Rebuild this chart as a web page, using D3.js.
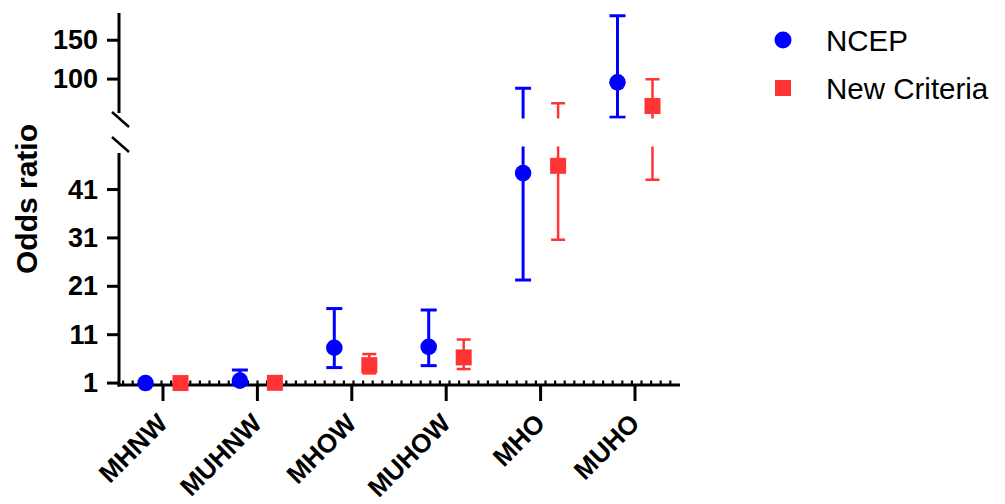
<!DOCTYPE html>
<html>
<head>
<meta charset="utf-8">
<script src="https://cdn.jsdelivr.net/npm/d3@7"></script>
<style>
html,body{margin:0;padding:0;background:#fff;}
svg{display:block;font-family:Arial,"Liberation Sans",sans-serif;}
</style>
</head>
<body>
<svg id="chart" width="1005" height="504"></svg>
<script>
const categories = ["MHNW","MUHNW","MHOW","MUHOW","MHO","MUHO"];
const ncepOR   = [1.0, 1.5, 8.3, 8.5, 44.4, 95.9];
const ncepLow  = [1.0, 0.7, 4.2, 4.6, 22.3, 50.9];
const ncepHigh = [1.0, 3.7, 16.4, 16.1, 88.2, 181.5];
const newOR    = [1.0, 1.05, 4.7, 6.3, 45.9, 65.4];
const newLow   = [1.0, 0.8, 3.0, 3.9, 30.6, 43.0];
const newHigh  = [1.0, 1.3, 7.0, 10.0, 68.9, 99.7];
const upperTicks = [100, 150];
const lowerTicks = [1, 11, 21, 31, 41];
const seriesNames = ["NCEP", "New Criteria"];
const breakValue = 50;

const svg = d3.select("#chart");
const BLUE = "#0000ff", RED = "#ff3535";
const xAxisY = 385, axisX = 119, axisEnd = 680;

const x = d3.scalePoint().domain(categories).range([163, 635]);
const yUp = d3.scaleLinear().domain([breakValue, 185]).range([118, 13]);
const yLo = d3.scaleLinear().domain([0.6, breakValue]).range([xAxisY, 146]);

// clip paths
const defs = svg.append("defs");
defs.append("clipPath").attr("id","clipUp").append("rect").attr("x",0).attr("y",0).attr("width",1005).attr("height",118.5);
defs.append("clipPath").attr("id","clipLo").append("rect").attr("x",0).attr("y",146.5).attr("width",1005).attr("height",400);

// axes
const ax = svg.append("g").attr("stroke","#000").attr("stroke-width",3).attr("fill","none");
ax.append("line").attr("x1",axisX).attr("x2",axisX).attr("y1",13).attr("y2",113);
ax.append("line").attr("x1",axisX).attr("x2",axisX).attr("y1",153).attr("y2",xAxisY+1.5);
ax.append("line").attr("x1",112).attr("x2",129).attr("y1",112).attr("y2",127).attr("stroke-width",2.5);
ax.append("line").attr("x1",112).attr("x2",129).attr("y1",137).attr("y2",152).attr("stroke-width",2.5);
ax.append("line").attr("x1",axisX-1.5).attr("x2",axisEnd).attr("y1",xAxisY).attr("y2",xAxisY);
// dotted reference at y=1
svg.append("line").attr("x1",axisX+3).attr("x2",673).attr("y1",yLo(1)-0.5).attr("y2",yLo(1)-0.5)
  .attr("stroke","#000").attr("stroke-width",4).attr("stroke-dasharray","2.2,7.4");

function yTicks(scale, ticks){
  const g = svg.append("g");
  ticks.forEach(t=>{
    g.append("line").attr("x1",axisX-12).attr("x2",axisX).attr("y1",scale(t)).attr("y2",scale(t))
      .attr("stroke","#000").attr("stroke-width",3);
    g.append("text").attr("x",98).attr("y",scale(t)).attr("text-anchor","end")
      .attr("dominant-baseline","central").attr("font-size",27).attr("font-weight","bold")
      .attr("fill","#000").text(t);
  });
}
yTicks(yUp, upperTicks);
yTicks(yLo, lowerTicks);

// x ticks and labels
categories.forEach(c=>{
  svg.append("line").attr("x1",x(c)).attr("x2",x(c)).attr("y1",xAxisY).attr("y2",401)
    .attr("stroke","#000").attr("stroke-width",3);
  svg.append("text").attr("transform",`translate(${x(c)+6},${425}) rotate(-45)`)
    .attr("text-anchor","end").attr("font-size",26).attr("font-weight","bold").attr("fill","#000").text(c);
});

// y label
svg.append("text").attr("transform","translate(37,199) rotate(-90)").attr("text-anchor","middle")
  .attr("font-size",30).attr("font-weight","bold").attr("fill","#000").text("Odds ratio");

// series
const series = [
  {name:seriesNames[0], or:ncepOR, lo:ncepLow, hi:ncepHigh, dx:-17.5, color:BLUE, sw:3, cap:16, shape:"circle"},
  {name:seriesNames[1], or:newOR, lo:newLow, hi:newHigh, dx:17.5, color:RED, sw:2.5, cap:14, shape:"square"}
];

[[yUp,"clipUp",true],[yLo,"clipLo",false]].forEach(([ys,clip,isUp])=>{
  const g = svg.append("g").attr("clip-path",`url(#${clip})`);
  const inPanel = v => isUp ? v >= breakValue : v < breakValue;
  series.forEach(s=>{
    categories.forEach((c,i)=>{
      const cx = x(c)+s.dx;
      if (s.hi[i] !== s.lo[i]) {
        g.append("line").attr("x1",cx).attr("x2",cx).attr("y1",ys(s.lo[i])).attr("y2",ys(s.hi[i]))
          .attr("stroke",s.color).attr("stroke-width",s.sw);
        [s.lo[i], s.hi[i]].filter(inPanel).forEach(v=>{
          g.append("line").attr("x1",cx-s.cap/2).attr("x2",cx+s.cap/2).attr("y1",ys(v)).attr("y2",ys(v))
            .attr("stroke",s.color).attr("stroke-width",s.sw);
        });
      }
      if (!inPanel(s.or[i])) return;
      if (s.shape==="circle") {
        g.append("circle").attr("cx",cx).attr("cy",ys(s.or[i])).attr("r",8.3).attr("fill",s.color);
      } else {
        g.append("rect").attr("x",cx-8).attr("y",ys(s.or[i])-8).attr("width",16).attr("height",16).attr("fill",s.color);
      }
    });
  });
});

// legend
const lg = svg.append("g");
lg.append("circle").attr("cx",783).attr("cy",40).attr("r",8.5).attr("fill",BLUE);
lg.append("rect").attr("x",775).attr("y",80).attr("width",16).attr("height",16).attr("fill",RED);
lg.append("text").attr("x",826).attr("y",40).attr("dominant-baseline","central").attr("font-size",29.5).attr("fill","#000").text(seriesNames[0]);
lg.append("text").attr("x",826).attr("y",88).attr("dominant-baseline","central").attr("font-size",29.5).attr("fill","#000").text(seriesNames[1]);
</script>
</body>
</html>
